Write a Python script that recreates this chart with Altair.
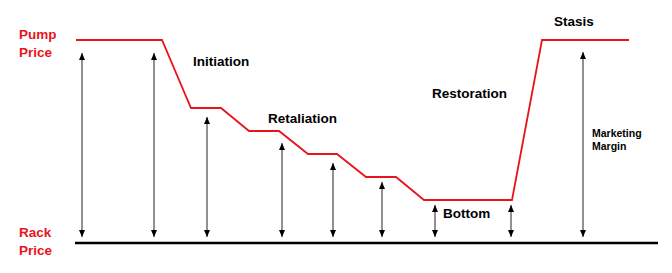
import altair as alt
import pandas as pd

# Pump price path (time position, price above rack price)
path_t = [76, 162, 191, 221, 249, 279, 308, 337, 366, 396, 424, 512, 542, 629]
path_p = [203, 203, 135, 135, 112, 112, 89, 89, 66, 66, 43, 43, 203, 203]

# Marketing-margin arrows (time position, top price, bottom price)
arrow_t = [82, 154, 207, 282, 333, 382, 435, 511, 583]
arrow_top = [190, 190, 126, 100, 80, 61, 38, 38, 191]
arrow_bot = [6, 6, 6, 6, 6, 6, 6, 6, 6]

# Rack price baseline
rack_t = [75, 658]
rack_p = [0, 0]

# Phase labels
phase_labels = ["Initiation", "Retaliation", "Restoration", "Stasis", "Bottom"]
phase_t = [193, 268, 432, 554, 443]
phase_p = [177, 120, 145, 217, 25]

# Axis-side labels (red)
side_labels = ["Pump", "Price", "Rack", "Price"]
side_t = [19, 19, 19, 19]
side_p = [204, 186, 6, -12]

# Margin label
margin_labels = ["Marketing", "Margin"]
margin_t = [592, 592]
margin_p = [106, 93]

RED = "#e8141c"
FONT = "Liberation Sans"

xs = alt.Scale(domain=[0, 672], nice=False, zero=False)
ys = alt.Scale(domain=[-30, 243], nice=False, zero=False)
X = lambda f: alt.X(f, type="quantitative", scale=xs, axis=None)
Y = lambda f: alt.Y(f, type="quantitative", scale=ys, axis=None)

path_df = pd.DataFrame({"t": path_t, "p": path_p, "o": range(len(path_t))})
arrow_df = pd.DataFrame({"t": arrow_t, "top": arrow_top, "bot": arrow_bot})
rack_df = pd.DataFrame({"t": rack_t, "p": rack_p})
phase_df = pd.DataFrame({"label": phase_labels, "t": phase_t, "p": phase_p})
side_df = pd.DataFrame({"label": side_labels, "t": side_t, "p": side_p})
margin_df = pd.DataFrame({"label": margin_labels, "t": margin_t, "p": margin_p})

rack = alt.Chart(rack_df).mark_line(color="black", strokeWidth=2.5).encode(
    x=X("t"), y=Y("p"))

pump = alt.Chart(path_df).mark_line(color=RED, strokeWidth=1.8).encode(
    x=X("t"), y=Y("p"), order="o:Q")

shafts = alt.Chart(arrow_df).mark_rule(color="#222222", strokeWidth=1).encode(
    x=X("t"), y=Y("top"), y2="bot")

heads_up = alt.Chart(arrow_df).mark_point(
    shape="M0,0L-1,2.3L1,2.3Z", filled=True, color="black", size=36, opacity=1,
    strokeWidth=0
).encode(x=X("t"), y=Y("top"))

heads_dn = alt.Chart(arrow_df).mark_point(
    shape="M0,0L-1,-2.3L1,-2.3Z", filled=True, color="black", size=36, opacity=1,
    strokeWidth=0
).encode(x=X("t"), y=Y("bot"))

phase_txt = alt.Chart(phase_df).mark_text(
    align="left", baseline="alphabetic", font=FONT, fontWeight="bold",
    fontSize=13.5, color="black"
).encode(x=X("t"), y=Y("p"), text="label")

side_txt = alt.Chart(side_df).mark_text(
    align="left", baseline="alphabetic", font=FONT, fontWeight="bold",
    fontSize=13.5, color=RED
).encode(x=X("t"), y=Y("p"), text="label")

margin_txt = alt.Chart(margin_df).mark_text(
    align="left", baseline="alphabetic", font=FONT, fontWeight="bold",
    fontSize=10.5, color="black"
).encode(x=X("t"), y=Y("p"), text="label")

chart = alt.layer(
    rack, pump, shafts, heads_up, heads_dn, phase_txt, side_txt, margin_txt
).properties(
    width=672, height=273, padding=0, autosize=alt.AutoSizeParams(type="none"),
    background="white"
).configure_view(stroke=None)

chart.save("out.html", embed_options={"renderer": "svg", "actions": False})
